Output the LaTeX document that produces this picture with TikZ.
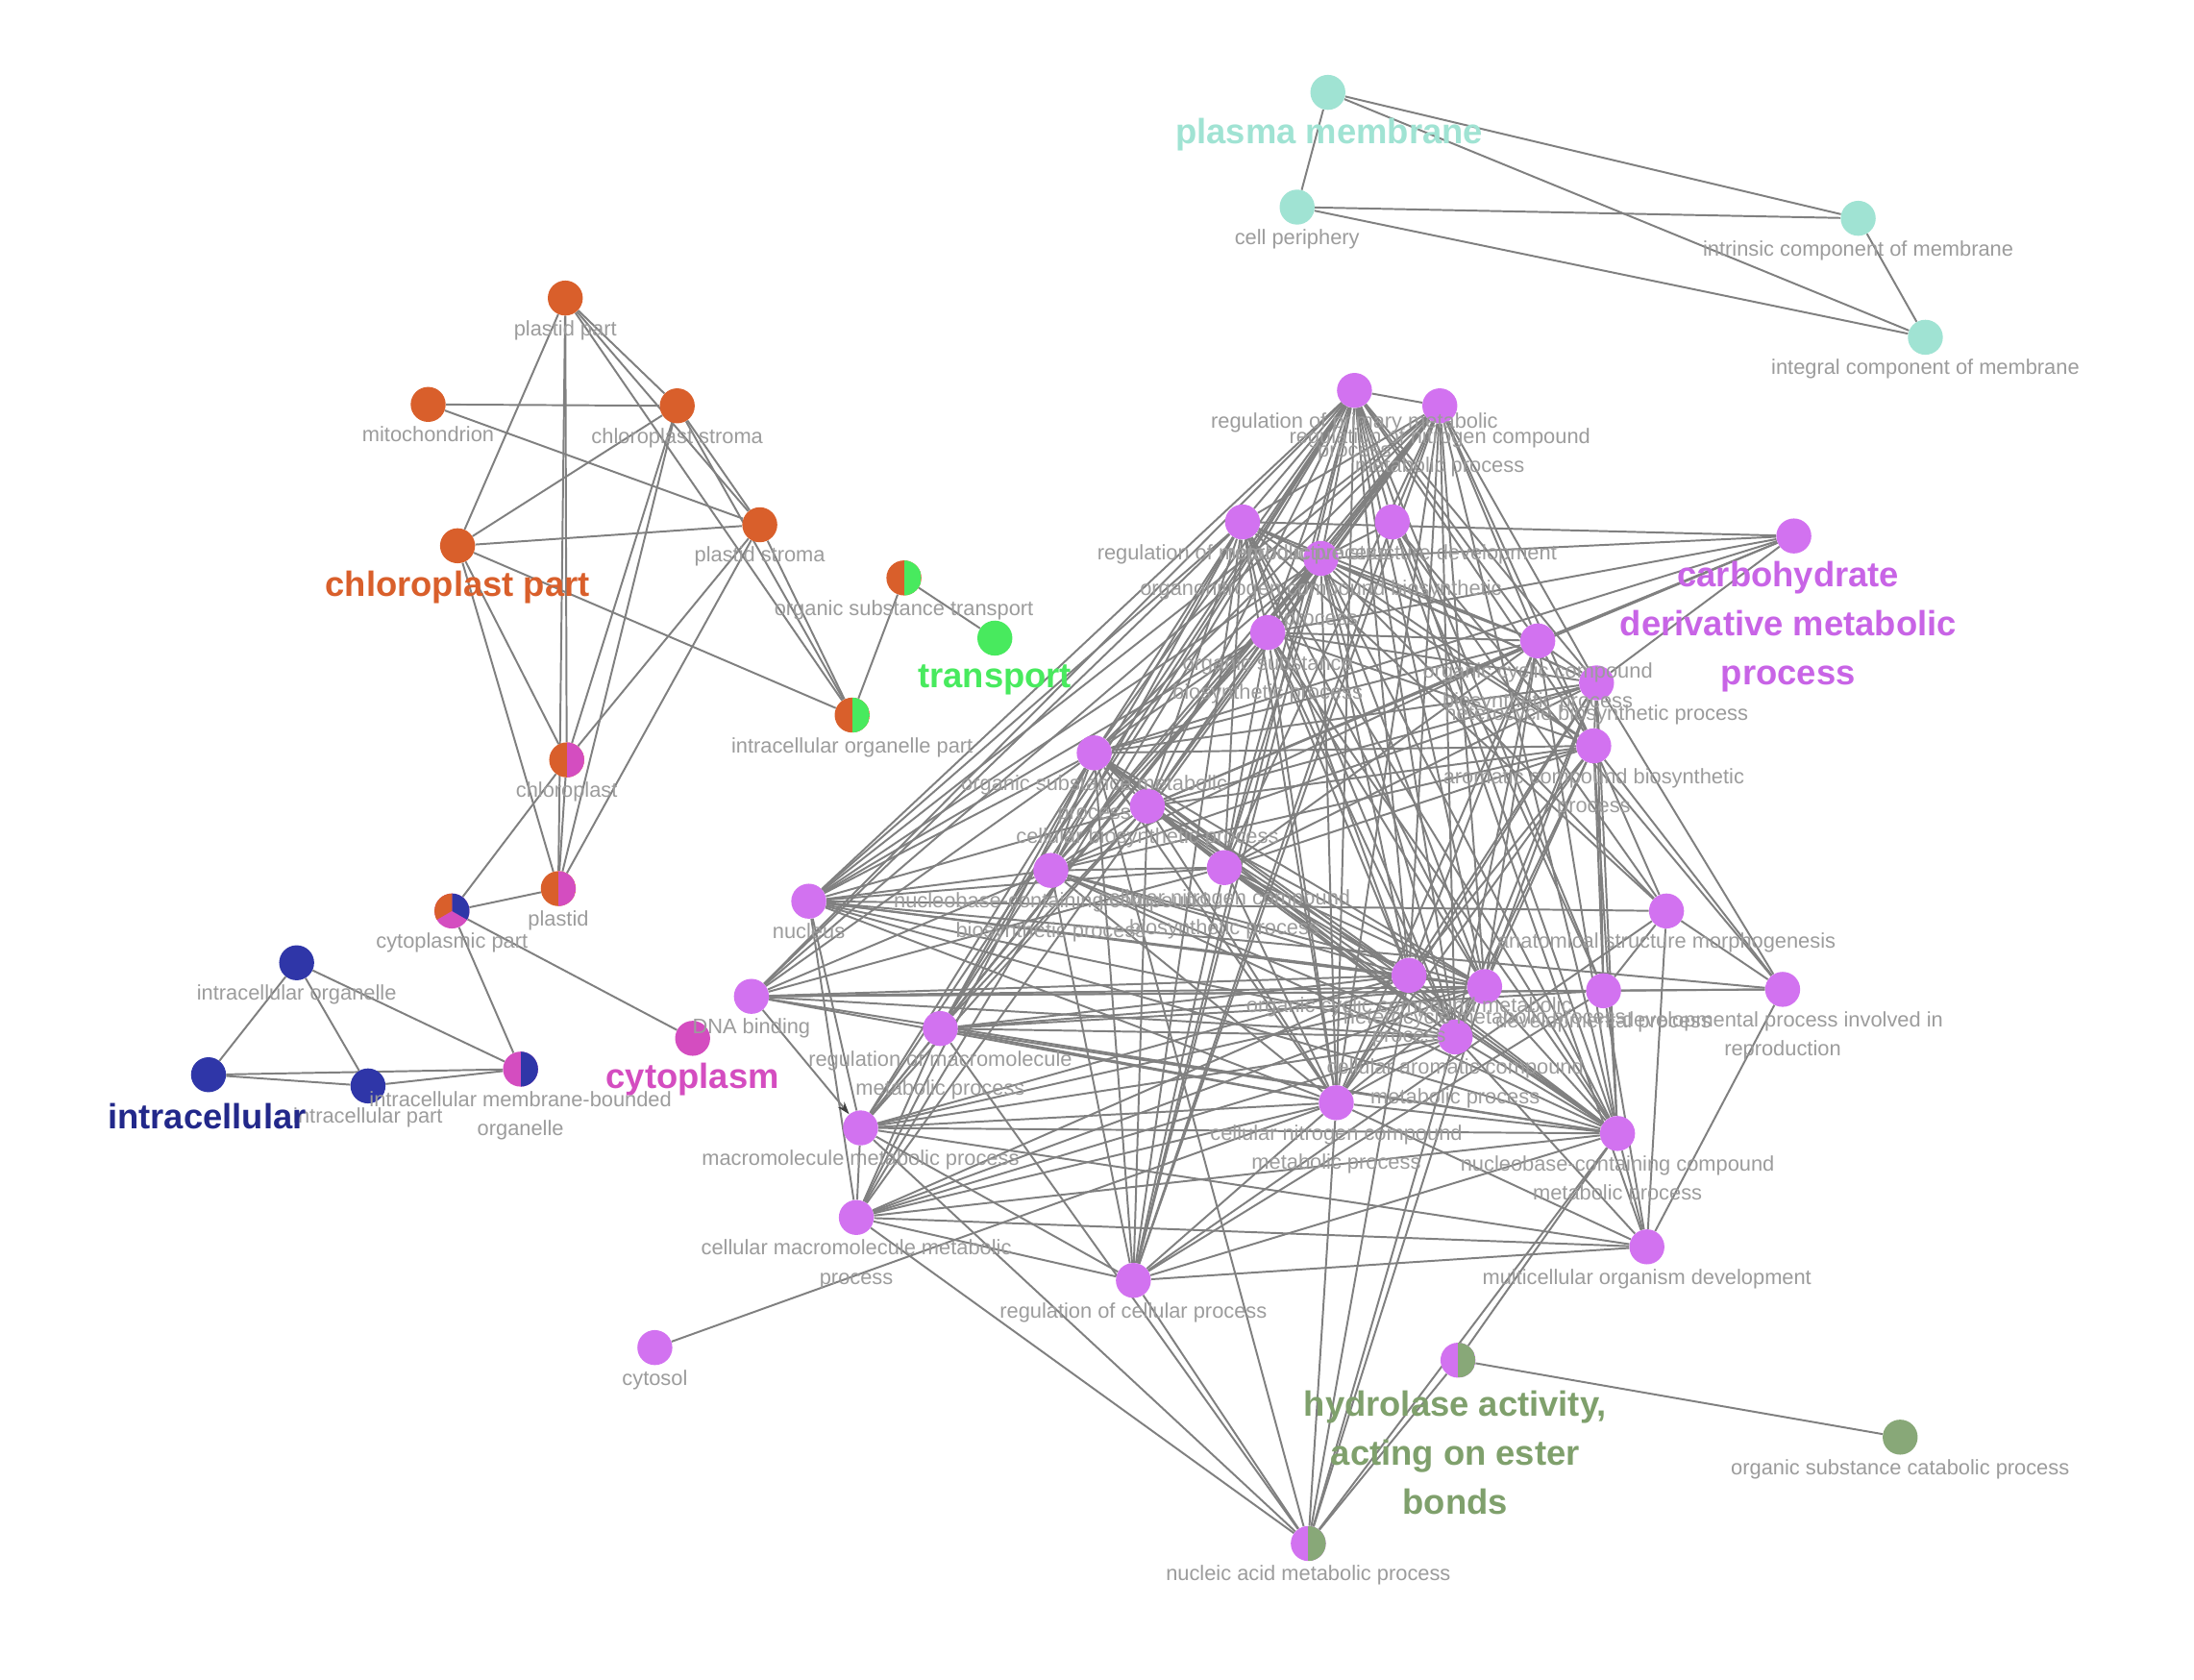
\documentclass[tikz,border=0pt]{standalone}
\usepackage{fontspec}
\setmainfont{Liberation Sans}
\usetikzlibrary{backgrounds,arrows.meta}
\definecolor{orangec}{HTML}{D95F2B}
\definecolor{greenc}{HTML}{48EA5E}
\definecolor{tealc}{HTML}{A0E3D3}
\definecolor{bluec}{HTML}{2F36A8}
\definecolor{bluelbl}{HTML}{22288A}
\definecolor{magc}{HTML}{D44DC0}
\definecolor{violetc}{HTML}{D272F0}
\definecolor{violetlbl}{HTML}{C864E6}
\definecolor{sagec}{HTML}{88A878}
\definecolor{sagelbl}{HTML}{7FA06C}
\definecolor{lblc}{HTML}{9C9C9C}
\definecolor{edgec}{HTML}{808080}
\begin{document}
\begin{tikzpicture}[x=1pt,y=-1pt,
  nd/.style={circle,minimum size=25pt,inner sep=0pt,fill=#1},
  halfnd/.style 2 args={circle,minimum size=25pt,inner sep=0pt,fill=#1,
    path picture={\fill[#2] (path picture bounding box.north) rectangle (path picture bounding box.south east);}},
  lnk/.style={draw=edgec,line width=1.35pt},
  lbl/.style={font=\fontsize{15}{21}\selectfont,text=lblc,align=center,inner sep=0pt,anchor=north},
  bigl/.style={font=\bfseries\fontsize{25}{35}\selectfont,align=center,inner sep=0pt}]
\useasboundingbox (0,0) rectangle (1568,1200);
% ---------- plasma membrane cluster
\node[nd=tealc] (pm) at (949,66) {};
\node[nd=tealc] (cellper) at (927,148) {};
\node[nd=tealc] (intrinsic) at (1328,156) {};
\node[nd=tealc] (integral) at (1376,241) {};
% ---------- chloroplast cluster
\node[nd=orangec] (plastidpart) at (404,213) {};
\node[nd=orangec] (mito) at (306,289) {};
\node[nd=orangec] (cstroma) at (484,290) {};
\node[nd=orangec] (cpart) at (327,390) {};
\node[nd=orangec] (pstroma) at (543,375) {};
\node[halfnd={orangec}{greenc}] (ost) at (646,413) {};
\node[nd=greenc] (transport) at (711,456) {};
\node[halfnd={orangec}{greenc}] (iop) at (609,511) {};
\node[halfnd={orangec}{magc}] (chloroplast) at (405,543) {};
\node[halfnd={orangec}{magc}] (plastid) at (399,635) {};
\node[circle,minimum size=25pt,inner sep=0pt,fill=magc,
  path picture={
   \fill[bluec] (path picture bounding box.center) -- ++(-30:20pt) arc[start angle=-30,end angle=90,radius=20pt] -- cycle;
   \fill[orangec] (path picture bounding box.center) -- ++(90:20pt) arc[start angle=90,end angle=210,radius=20pt] -- cycle;}] (cytopart) at (323,651) {};
% ---------- intracellular cluster
\node[nd=bluec] (io) at (212,688) {};
\node[nd=bluec] (intracellular) at (149,768) {};
\node[nd=bluec] (ipart) at (263,776) {};
\node[halfnd={magc}{bluec}] (imbo) at (372,764) {};
\node[nd=magc] (cytoplasm) at (495,742) {};
% ---------- purple cluster
\node[nd=violetc] (P1) at (968,279) {};
\node[nd=violetc] (P2) at (1029,290) {};
\node[nd=violetc] (P3) at (888,373) {};
\node[nd=violetc] (P4) at (995,373) {};
\node[nd=violetc] (P5) at (944,399) {};
\node[nd=violetc] (P6) at (1282,383) {};
\node[nd=violetc] (P7) at (906,452) {};
\node[nd=violetc] (P8) at (1099,458) {};
\node[nd=violetc] (P9) at (1141,488) {};
\node[nd=violetc] (P10) at (782,538) {};
\node[nd=violetc] (P11) at (1139,533) {};
\node[nd=violetc] (P12) at (820,576) {};
\node[nd=violetc] (P13) at (578,644) {};
\node[nd=violetc] (P14) at (751,622) {};
\node[nd=violetc] (P15) at (875,620) {};
\node[nd=violetc] (P16) at (537,712) {};
\node[nd=violetc] (P17) at (1191,651) {};
\node[nd=violetc] (P18) at (1007,697) {};
\node[nd=violetc] (P19) at (1061,705) {};
\node[nd=violetc] (P20) at (1146,708) {};
\node[nd=violetc] (P21) at (1274,707) {};
\node[nd=violetc] (P22) at (1040,741) {};
\node[nd=violetc] (P23) at (672,735) {};
\node[nd=violetc] (P24) at (955,788) {};
\node[nd=violetc] (P25) at (615,806) {};
\node[nd=violetc] (P26) at (1156,810) {};
\node[nd=violetc] (P27) at (612,870) {};
\node[nd=violetc] (P28) at (1177,891) {};
\node[nd=violetc] (P29) at (810,915) {};
\node[nd=violetc] (P30) at (468,963) {};
\node[halfnd={violetc}{sagec}] (P31) at (1042,972) {};
\node[nd=sagec] (P32) at (1358,1027) {};
\node[halfnd={violetc}{sagec}] (P33) at (935,1103) {};
% ---------- edges
\begin{scope}[on background layer]
\fill[white] (0,0) rectangle (1568,1200);
\foreach \a/\b in {pm/cellper,pm/intrinsic,pm/integral,cellper/intrinsic,cellper/integral,intrinsic/integral,
  plastidpart/cpart,plastidpart/chloroplast,plastidpart/plastid,plastidpart/cstroma,plastidpart/pstroma,plastidpart/iop,
  mito/cstroma,mito/pstroma,cstroma/cpart,cstroma/pstroma,cstroma/iop,cstroma/chloroplast,cstroma/plastid,
  cpart/pstroma,cpart/iop,cpart/chloroplast,cpart/plastid,pstroma/chloroplast,pstroma/plastid,pstroma/iop,
  ost/iop,ost/transport,chloroplast/plastid,chloroplast/cytopart,plastid/cytopart,cytopart/imbo,cytopart/cytoplasm,
  io/intracellular,io/ipart,io/imbo,intracellular/ipart,intracellular/imbo,ipart/imbo}
  \draw[lnk] (\a) -- (\b);
\foreach \a [count=\i] in {P1,P2,P3,P5,P7,P8,P9,P10,P11,P12,P14,P15,P18,P19,P22,P24,P26}{
  \foreach \b [count=\j] in {P1,P2,P3,P5,P7,P8,P9,P10,P11,P12,P14,P15,P18,P19,P22,P24,P26}{
    \ifnum\i<\j \draw[lnk] (\a) -- (\b); \fi}}
\foreach \a/\b in {P13/P1,P13/P2,P13/P3,P13/P5,P13/P7,P13/P10,P13/P12,P13/P14,P13/P15,P13/P18,P13/P19,P13/P22,P13/P24,P13/P26,P13/P25,P13/P27,P13/P21,P13/P17,
  P16/P1,P16/P2,P16/P3,P16/P10,P16/P14,P16/P15,P16/P18,P16/P19,P16/P20,P16/P22,P16/P24,P16/P26,P16/P21,
  P23/P1,P23/P2,P23/P3,P23/P5,P23/P10,P23/P18,P23/P19,P23/P20,P23/P22,P23/P24,P23/P26,P23/P25,P23/P27,P23/P33,P23/P12,
  P25/P1,P25/P2,P25/P10,P25/P18,P25/P19,P25/P22,P25/P24,P25/P26,P25/P27,P25/P28,P25/P33,P25/P29,P25/P12,
  P27/P1,P27/P2,P27/P10,P27/P18,P27/P22,P27/P24,P27/P26,P27/P28,P27/P33,P27/P29,P27/P19,
  P29/P1,P29/P2,P29/P3,P29/P4,P29/P5,P29/P10,P29/P12,P29/P14,P29/P15,P29/P17,P29/P20,P29/P28,P29/P33,P29/P24,P29/P26,
  P28/P17,P28/P20,P28/P21,P28/P4,P28/P26,P28/P24,P28/P22,
  P17/P4,P17/P20,P17/P21,P17/P11,P17/P5,P17/P3,
  P20/P21,P20/P4,P20/P11,P20/P9,P20/P1,
  P21/P4,P21/P9,P21/P11,
  P4/P1,P4/P2,P4/P5,
  P6/P5,P6/P7,P6/P8,P6/P9,P6/P10,P6/P12,P6/P3,
  P33/P22,P33/P24,P33/P18,P33/P10,P33/P26,P33/P19,
  P31/P33,P31/P32,P31/P26,P30/P24}
  \draw[lnk] (\a) -- (\b);
\draw[lnk,-{Stealth[length=9pt,width=6pt,color=black!75]}] (P16) -- (P25);
\end{scope}
% ---------- small labels
\node[lbl] (l-cellper) at ([yshift=-3pt]cellper.south) {cell periphery};
\node[lbl] (l-intrinsic) at ([yshift=-3pt]intrinsic.south) {intrinsic component of membrane};
\node[lbl] (l-integral) at ([yshift=-3pt]integral.south) {integral component of membrane};
\node[lbl] (l-plastidpart) at ([yshift=-3pt]plastidpart.south) {plastid part};
\node[lbl] (l-mito) at ([yshift=-3pt]mito.south) {mitochondrion};
\node[lbl] (l-cstroma) at ([yshift=-3pt]cstroma.south) {chloroplast stroma};
\node[lbl] (l-pstroma) at ([yshift=-3pt]pstroma.south) {plastid stroma};
\node[lbl] (l-ost) at ([yshift=-3pt]ost.south) {organic substance transport};
\node[lbl] (l-iop) at ([yshift=-3pt]iop.south) {intracellular organelle part};
\node[lbl] (l-chloroplast) at ([yshift=-3pt]chloroplast.south) {chloroplast};
\node[lbl] (l-plastid) at ([yshift=-3pt]plastid.south) {plastid};
\node[lbl] (l-cytopart) at ([yshift=-3pt]cytopart.south) {cytoplasmic part};
\node[lbl] (l-io) at ([yshift=-3pt]io.south) {intracellular organelle};
\node[lbl] (l-ipart) at ([yshift=-3pt]ipart.south) {intracellular part};
\node[lbl] (l-imbo) at ([yshift=-3pt]imbo.south) {intracellular membrane-bounded\\organelle};
\node[lbl] (l-P1) at ([yshift=-3pt]P1.south) {regulation of primary metabolic\\process};
\node[lbl] (l-P2) at ([yshift=-3pt]P2.south) {regulation of nitrogen compound\\metabolic process};
\node[lbl] (l-P3) at ([yshift=-3pt]P3.south) {regulation of metabolic process};
\node[lbl] (l-P4) at ([yshift=-3pt]P4.south) {reproductive structure development};
\node[lbl] (l-P5) at ([yshift=-3pt]P5.south) {organonitrogen compound biosynthetic\\process};
\node[lbl] (l-P7) at ([yshift=-3pt]P7.south) {organic substance\\biosynthetic process};
\node[lbl] (l-P8) at ([yshift=-3pt]P8.south) {organic cyclic compound\\biosynthetic process};
\node[lbl] (l-P9) at ([yshift=-3pt]P9.south) {heterocycle biosynthetic process};
\node[lbl] (l-P10) at ([yshift=-3pt]P10.south) {organic substance metabolic\\process};
\node[lbl] (l-P11) at ([yshift=-3pt]P11.south) {aromatic compound biosynthetic\\process};
\node[lbl] (l-P12) at ([yshift=-3pt]P12.south) {cellular biosynthetic process};
\node[lbl] (l-P13) at ([yshift=-3pt]P13.south) {nucleus};
\node[lbl] (l-P14) at ([yshift=-3pt]P14.south) {nucleobase-containing compound\\biosynthetic process};
\node[lbl] (l-P15) at ([yshift=-3pt]P15.south) {cellular nitrogen compound\\biosynthetic process};
\node[lbl] (l-P16) at ([yshift=-3pt]P16.south) {DNA binding};
\node[lbl] (l-P17) at ([yshift=-3pt]P17.south) {anatomical structure morphogenesis};
\node[lbl] (l-P18) at ([yshift=-3pt]P18.south) {organic cyclic compound metabolic\\process};
\node[lbl] (l-P19) at ([yshift=-3pt]P19.south) {heterocycle metabolic process};
\node[lbl] (l-P20) at ([yshift=-3pt]P20.south) {developmental process};
\node[lbl] (l-P21) at ([yshift=-3pt]P21.south) {developmental process involved in\\reproduction};
\node[lbl] (l-P22) at ([yshift=-3pt]P22.south) {cellular aromatic compound\\metabolic process};
\node[lbl] (l-P23) at ([yshift=-3pt]P23.south) {regulation of macromolecule\\metabolic process};
\node[lbl] (l-P24) at ([yshift=-3pt]P24.south) {cellular nitrogen compound\\metabolic process};
\node[lbl] (l-P25) at ([yshift=-3pt]P25.south) {macromolecule metabolic process};
\node[lbl] (l-P26) at ([yshift=-3pt]P26.south) {nucleobase-containing compound\\metabolic process};
\node[lbl] (l-P27) at ([yshift=-3pt]P27.south) {cellular macromolecule metabolic\\process};
\node[lbl] (l-P28) at ([yshift=-3pt]P28.south) {multicellular organism development};
\node[lbl] (l-P29) at ([yshift=-3pt]P29.south) {regulation of cellular process};
\node[lbl] (l-P30) at ([yshift=-3pt]P30.south) {cytosol};
\node[lbl] (l-P32) at ([yshift=-3pt]P32.south) {organic substance catabolic process};
\node[lbl] (l-P33) at ([yshift=-3pt]P33.south) {nucleic acid metabolic process};
% ---------- group labels
\node[bigl,text=tealc] (g-pm) at (950,96) {plasma membrane};
\node[bigl,text=orangec] (g-cpart) at (327,420) {chloroplast part};
\node[bigl,text=greenc] (g-transport) at (711,486) {transport};
\node[bigl,text=magc] (g-cytoplasm) at (495,771) {cytoplasm};
\node[bigl,text=bluelbl] (g-intracellular) at (148,798) {intracellular};
\node[bigl,text=violetlbl] (g-carb) at (1278,448) {carbohydrate\\derivative metabolic\\process};
\node[bigl,text=sagelbl] (g-hydro) at (1040,1038) {hydrolase activity,\\acting on ester\\bonds};
\end{tikzpicture}
\end{document}
